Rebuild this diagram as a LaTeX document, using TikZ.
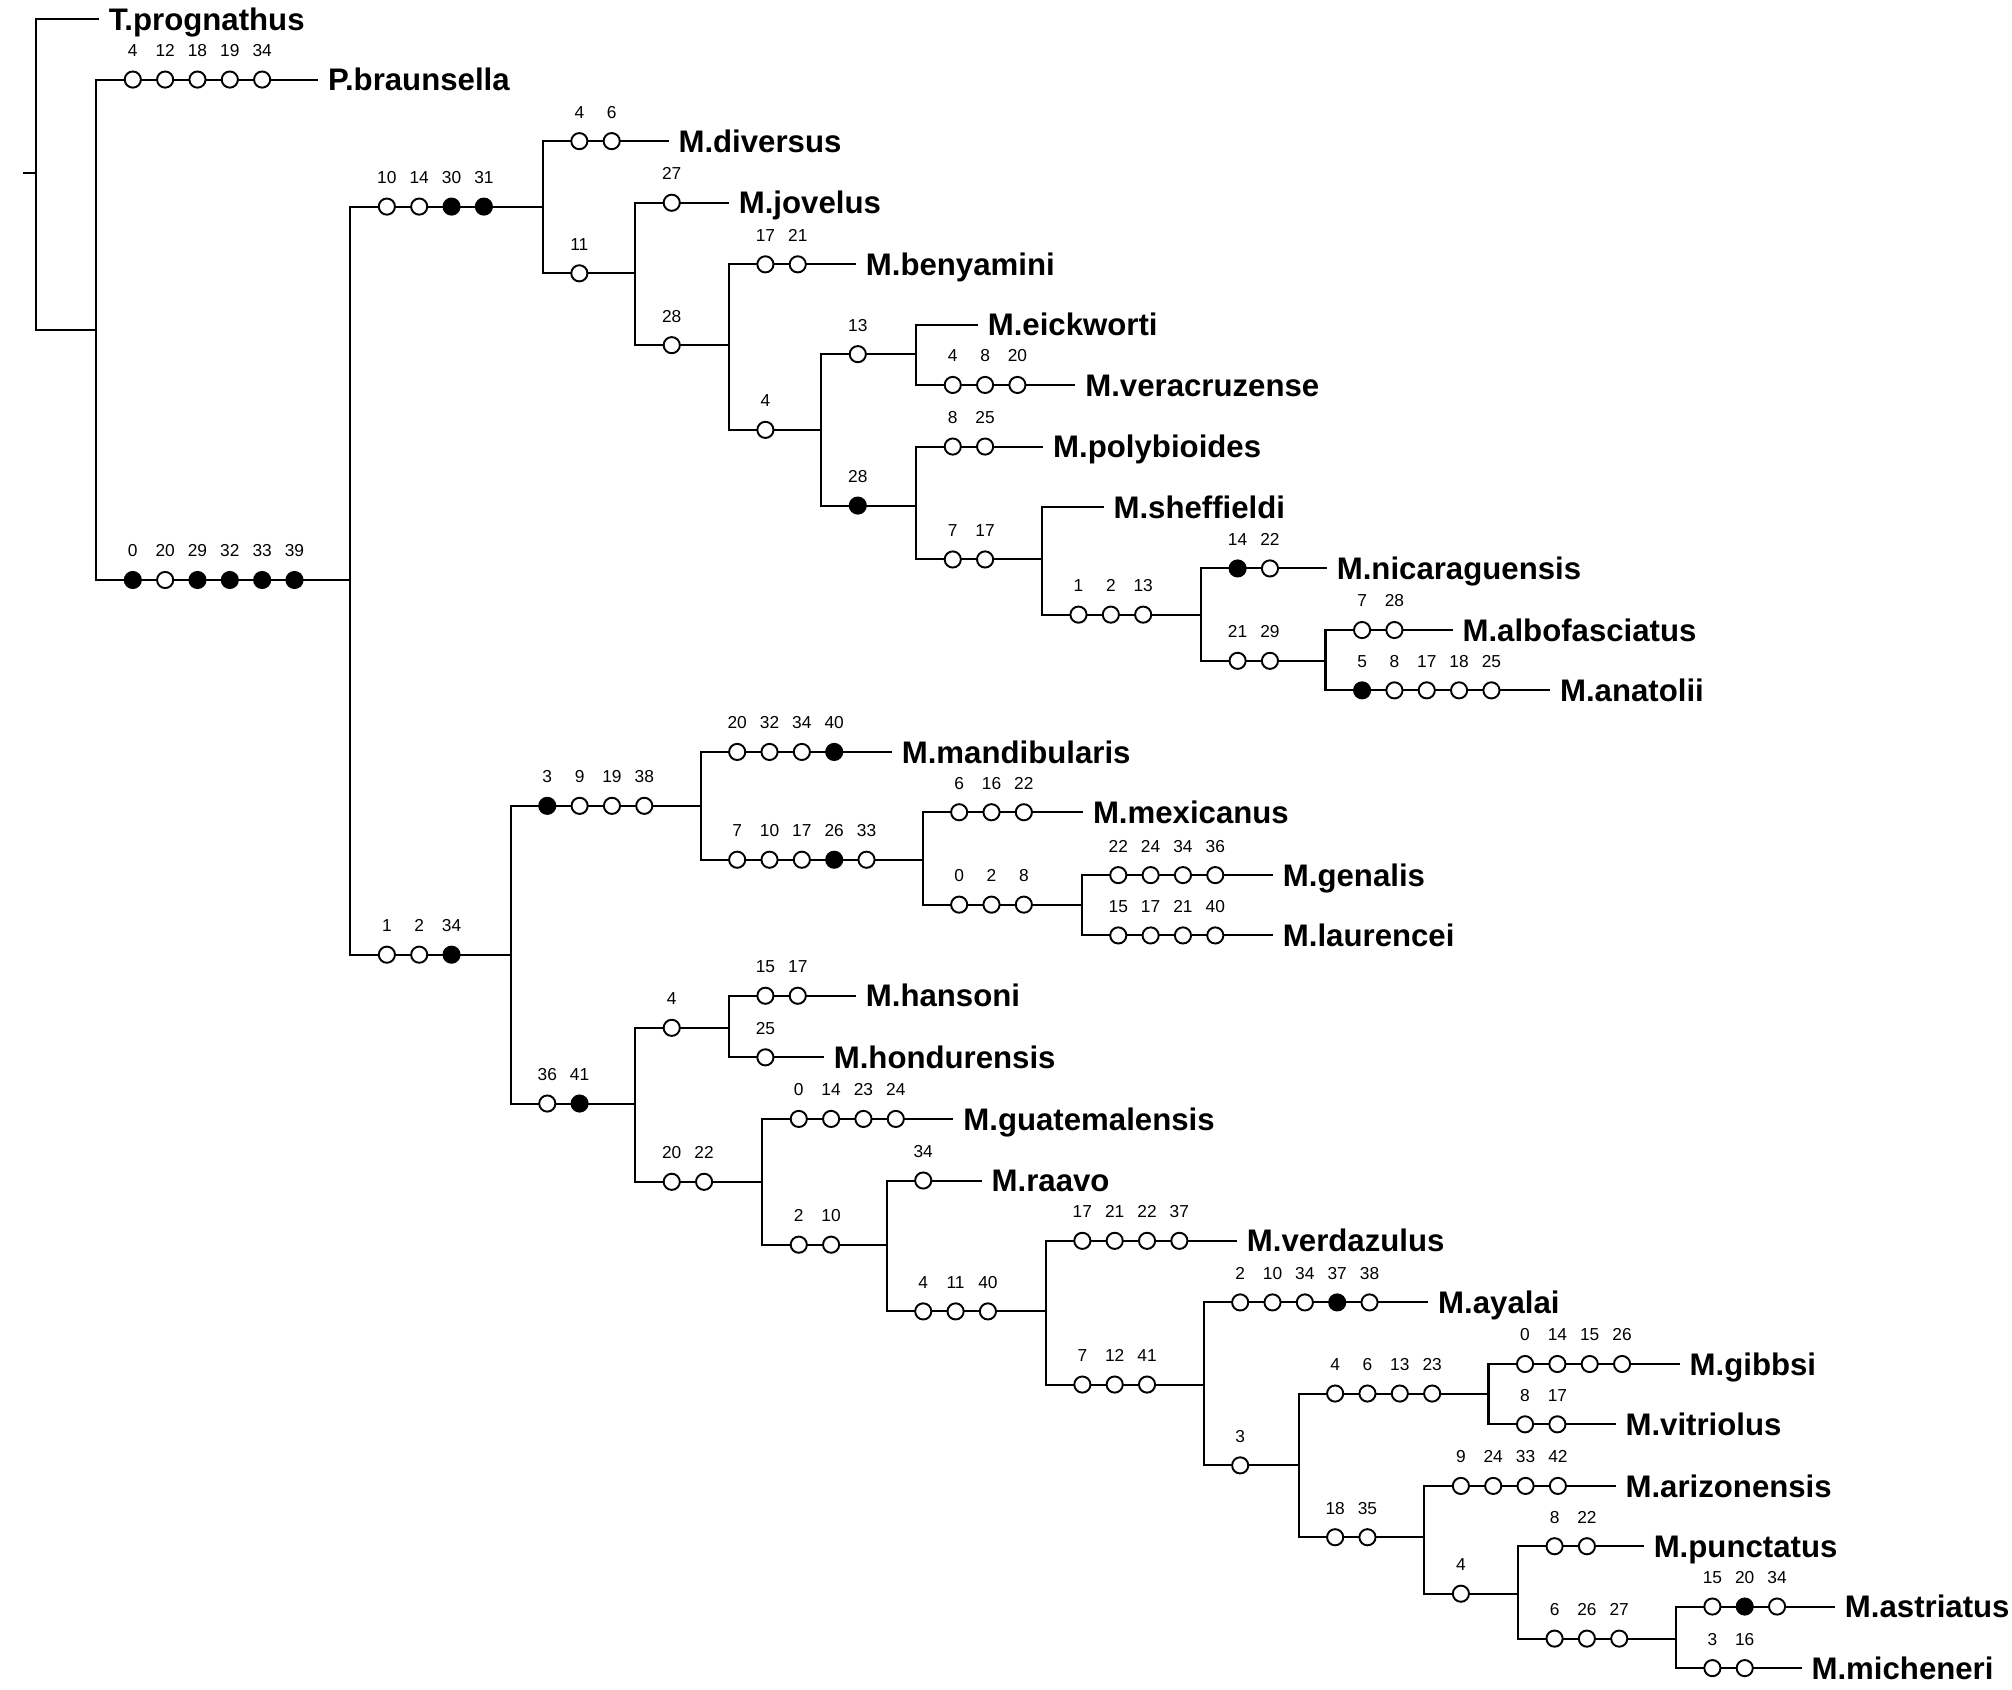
\documentclass[tikz,border=0pt]{standalone}
\usepackage{fontspec}
\setmainfont{Liberation Sans}
\usetikzlibrary{calc}

\colorlet{w}{white}
\colorlet{b}{black}

\tikzset{
  taxon/.style={anchor=west, inner xsep=7pt, inner ysep=0pt, text height=17.4pt, text depth=0pt,
    font=\fontsize{24.3}{28}\selectfont\bfseries},
  chr/.style={circle, draw, line width=1.5pt, minimum size=12.6pt, inner sep=0pt},
  num/.style={anchor=base, inner sep=0pt, font=\fontsize{13.5}{15}\selectfont},
}

% character changes along the branch from #1 to #2
\newcommand\chgs[3]{%
  \foreach \fl/\lb [count=\k from 0] in {#3}{
    \node[chr, fill=\fl] (#2c\k) at ($(#1 |- #2) + ({28.5+25.2*\k}, 0)$) {};
    \node[num] (#2l\k) at ($(#2c\k) + (0,-18)$) {\lb};
  }
}

\begin{document}
\begin{tikzpicture}[x=1pt, y=-1pt, line width=1.6pt]
  \useasboundingbox (0,0) rectangle (1568,1317);

  % -- Internal nodes --
  \coordinate (rtick) at (18,135);
  \coordinate (root) at (28,135);
  \coordinate (n1) at (75,257);
  \coordinate (n2) at (273,452);
  \coordinate (n3) at (423,161);
  \coordinate (n4) at (495,213);
  \coordinate (n5) at (568,269);
  \coordinate (n6) at (640,335);
  \coordinate (n7) at (714,276);
  \coordinate (n8) at (714,394);
  \coordinate (n9) at (812,436);
  \coordinate (n10) at (936,479);
  \coordinate (n11) at (1033,515);
  \coordinate (n12) at (398,744);
  \coordinate (n13) at (546,628);
  \coordinate (n14) at (719,670);
  \coordinate (n15) at (843,705);
  \coordinate (n16) at (495,860);
  \coordinate (n17) at (568,801);
  \coordinate (n18) at (594,921);
  \coordinate (n19) at (691,970);
  \coordinate (n20) at (815,1022);
  \coordinate (n21) at (938,1079);
  \coordinate (n22) at (1012,1142);
  \coordinate (n23) at (1160,1086);
  \coordinate (n24) at (1110,1198);
  \coordinate (n25) at (1183,1242);
  \coordinate (n26) at (1306,1277);

  % -- Taxa --
  \node[taxon] (tpro) at (77,15) {T.prognathus};
  \node[taxon] (pbra) at (248,62) {P.braunsella};
  \node[taxon] (dive) at (521,110) {M.diversus};
  \node[taxon] (jove) at (568,158) {M.jovelus};
  \node[taxon] (beny) at (667,206) {M.benyamini};
  \node[taxon] (eick) at (762,253) {M.eickworti};
  \node[taxon] (vera) at (838,300) {M.veracruzense};
  \node[taxon] (poly) at (813,348) {M.polybioides};
  \node[taxon] (shef) at (860,395) {M.sheffieldi};
  \node[taxon] (nica) at (1034,443) {M.nicaraguensis};
  \node[taxon] (albo) at (1132,491) {M.albofasciatus};
  \node[taxon] (anat) at (1208,538) {M.anatolii};
  \node[taxon] (mand) at (695,586) {M.mandibularis};
  \node[taxon] (mexi) at (844,633) {M.mexicanus};
  \node[taxon] (gena) at (992,682) {M.genalis};
  \node[taxon] (laur) at (992,729) {M.laurencei};
  \node[taxon] (hans) at (667,776) {M.hansoni};
  \node[taxon] (hond) at (642,824) {M.hondurensis};
  \node[taxon] (guat) at (743,872) {M.guatemalensis};
  \node[taxon] (raav) at (765,920) {M.raavo};
  \node[taxon] (verd) at (964,967) {M.verdazulus};
  \node[taxon] (ayal) at (1113,1015) {M.ayalai};
  \node[taxon] (gibb) at (1309,1063) {M.gibbsi};
  \node[taxon] (vitr) at (1259,1110) {M.vitriolus};
  \node[taxon] (ariz) at (1259,1158) {M.arizonensis};
  \node[taxon] (punc) at (1281,1205) {M.punctatus};
  \node[taxon] (astr) at (1430,1252) {M.astriatus};
  \node[taxon] (mich) at (1404,1300) {M.micheneri};

  % -- Branches --
  \draw (rtick) -- (root);
  \draw (root) |- (tpro) (root) |- (n1);
  \draw (n1) |- (pbra) (n1) |- (n2);
  \draw (n2) |- (n3) (n2) |- (n12);
  \draw (n3) |- (dive) (n3) |- (n4);
  \draw (n4) |- (jove) (n4) |- (n5);
  \draw (n5) |- (beny) (n5) |- (n6);
  \draw (n6) |- (n7) (n6) |- (n8);
  \draw (n7) |- (eick) (n7) |- (vera);
  \draw (n8) |- (poly) (n8) |- (n9);
  \draw (n9) |- (shef) (n9) |- (n10);
  \draw (n10) |- (nica) (n10) |- (n11);
  \draw (n11) |- (albo) (n11) |- (anat);
  \draw (n12) |- (n13) (n12) |- (n16);
  \draw (n13) |- (mand) (n13) |- (n14);
  \draw (n14) |- (mexi) (n14) |- (n15);
  \draw (n15) |- (gena) (n15) |- (laur);
  \draw (n16) |- (n17) (n16) |- (n18);
  \draw (n17) |- (hans) (n17) |- (hond);
  \draw (n18) |- (guat) (n18) |- (n19);
  \draw (n19) |- (raav) (n19) |- (n20);
  \draw (n20) |- (verd) (n20) |- (n21);
  \draw (n21) |- (ayal) (n21) |- (n22);
  \draw (n22) |- (n23) (n22) |- (n24);
  \draw (n23) |- (gibb) (n23) |- (vitr);
  \draw (n24) |- (ariz) (n24) |- (n25);
  \draw (n25) |- (punc) (n25) |- (n26);
  \draw (n26) |- (astr) (n26) |- (mich);

  % -- Character changes (white = open, black = filled) --
  \chgs{n1}{pbra}{w/4,w/12,w/18,w/19,w/34}
  \chgs{n1}{n2}{b/0,w/20,b/29,b/32,b/33,b/39}
  \chgs{n2}{n3}{w/10,w/14,b/30,b/31}
  \chgs{n3}{dive}{w/4,w/6}
  \chgs{n3}{n4}{w/11}
  \chgs{n4}{jove}{w/27}
  \chgs{n4}{n5}{w/28}
  \chgs{n5}{beny}{w/17,w/21}
  \chgs{n5}{n6}{w/4}
  \chgs{n6}{n7}{w/13}
  \chgs{n6}{n8}{b/28}
  \chgs{n7}{vera}{w/4,w/8,w/20}
  \chgs{n8}{poly}{w/8,w/25}
  \chgs{n8}{n9}{w/7,w/17}
  \chgs{n9}{n10}{w/1,w/2,w/13}
  \chgs{n10}{nica}{b/14,w/22}
  \chgs{n10}{n11}{w/21,w/29}
  \chgs{n11}{albo}{w/7,w/28}
  \chgs{n11}{anat}{b/5,w/8,w/17,w/18,w/25}
  \chgs{n2}{n12}{w/1,w/2,b/34}
  \chgs{n12}{n13}{b/3,w/9,w/19,w/38}
  \chgs{n13}{mand}{w/20,w/32,w/34,b/40}
  \chgs{n13}{n14}{w/7,w/10,w/17,b/26,w/33}
  \chgs{n14}{mexi}{w/6,w/16,w/22}
  \chgs{n14}{n15}{w/0,w/2,w/8}
  \chgs{n15}{gena}{w/22,w/24,w/34,w/36}
  \chgs{n15}{laur}{w/15,w/17,w/21,w/40}
  \chgs{n12}{n16}{w/36,b/41}
  \chgs{n16}{n17}{w/4}
  \chgs{n17}{hans}{w/15,w/17}
  \chgs{n17}{hond}{w/25}
  \chgs{n16}{n18}{w/20,w/22}
  \chgs{n18}{guat}{w/0,w/14,w/23,w/24}
  \chgs{n18}{n19}{w/2,w/10}
  \chgs{n19}{raav}{w/34}
  \chgs{n19}{n20}{w/4,w/11,w/40}
  \chgs{n20}{verd}{w/17,w/21,w/22,w/37}
  \chgs{n20}{n21}{w/7,w/12,w/41}
  \chgs{n21}{ayal}{w/2,w/10,w/34,b/37,w/38}
  \chgs{n21}{n22}{w/3}
  \chgs{n22}{n23}{w/4,w/6,w/13,w/23}
  \chgs{n23}{gibb}{w/0,w/14,w/15,w/26}
  \chgs{n23}{vitr}{w/8,w/17}
  \chgs{n22}{n24}{w/18,w/35}
  \chgs{n24}{ariz}{w/9,w/24,w/33,w/42}
  \chgs{n24}{n25}{w/4}
  \chgs{n25}{punc}{w/8,w/22}
  \chgs{n25}{n26}{w/6,w/26,w/27}
  \chgs{n26}{astr}{w/15,b/20,w/34}
  \chgs{n26}{mich}{w/3,w/16}

\end{tikzpicture}
\end{document}
